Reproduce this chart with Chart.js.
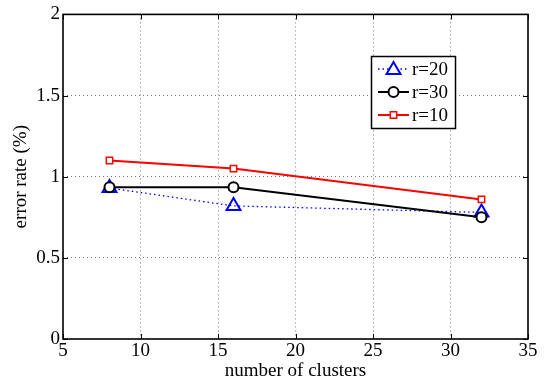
<!DOCTYPE html>
<html><head><meta charset="utf-8">
<script src="https://cdn.jsdelivr.net/npm/chart.js@4.4.0/dist/chart.umd.min.js"></script>
<style>html,body{margin:0;padding:0;background:#fff}#wrap{width:549px;height:381px}</style>
</head><body><div id="wrap"><canvas id="c" width="549" height="381"></canvas></div>
<script>
const clusters = [8, 16, 32];
const r20 = [0.93, 0.82, 0.78];
const r30 = [0.935, 0.935, 0.75];
const r10 = [1.10, 1.05, 0.86];
const xTicks = [5, 10, 15, 20, 25, 30, 35];
const yTicks = [0, 0.5, 1, 1.5, 2];
const seriesLabels = ['r=20', 'r=30', 'r=10'];

const FONT = '"Liberation Serif", "Times New Roman", serif';
const pts = arr => clusters.map((x, i) => ({x, y: arr[i]}));

const boxPlugin = {
  id: 'box',
  afterDraw(chart) {
    const {ctx, chartArea: a, scales: {x, y}} = chart;
    ctx.save();
    ctx.strokeStyle = '#000';
    ctx.lineWidth = 1;
    ctx.beginPath();
    xTicks.forEach(v => {
      const px = Math.round(x.getPixelForValue(v)) + 0.5;
      ctx.moveTo(px, a.bottom); ctx.lineTo(px, a.bottom - 5);
      ctx.moveTo(px, a.top); ctx.lineTo(px, a.top + 5);
    });
    yTicks.forEach(v => {
      const py = Math.round(y.getPixelForValue(v)) + 0.5;
      ctx.moveTo(a.left, py); ctx.lineTo(a.left + 5, py);
      ctx.moveTo(a.right, py); ctx.lineTo(a.right - 5, py);
    });
    ctx.stroke();
    ctx.lineWidth = 1.6;
    ctx.strokeRect(a.left, a.top, a.right - a.left, a.bottom - a.top);
    // legend
    const lx = 371, ly = 56, lw = 84, lh = 72;
    ctx.fillStyle = '#fff';
    ctx.fillRect(lx, ly, lw, lh);
    ctx.lineWidth = 1.5;
    ctx.strokeRect(lx + 0.5, ly + 0.5, lw, lh);
    const rows = [69, 92, 115];
    chart.data.datasets.forEach((ds, i) => {
      const yy = rows[i];
      ctx.save();
      ctx.strokeStyle = ds.borderColor;
      ctx.lineWidth = ds.borderWidth;
      ctx.setLineDash(ds.borderDash || []);
      ctx.beginPath(); ctx.moveTo(378, yy); ctx.lineTo(409, yy); ctx.stroke();
      ctx.setLineDash([]);
      ctx.lineWidth = ds.pointBorderWidth;
      const cx = 393.5;
      ctx.fillStyle = '#fff';
      ctx.beginPath();
      if (ds.pointStyle === 'triangle') {
        const r = ds.pointRadius, c = yy + 1;
        ctx.moveTo(cx, c - r); ctx.lineTo(cx + r * 0.87, c + r * 0.5); ctx.lineTo(cx - r * 0.87, c + r * 0.5); ctx.closePath();
      } else if (ds.pointStyle === 'rect') {
        const s = ds.pointRadius * 0.7071;
        ctx.rect(cx - s, yy - s, 2 * s, 2 * s);
      } else {
        ctx.arc(cx, yy, ds.pointRadius, 0, Math.PI * 2);
      }
      ctx.fill(); ctx.stroke();
      ctx.restore();
      ctx.fillStyle = '#000';
      ctx.font = '19px ' + FONT;
      ctx.textBaseline = 'middle';
      ctx.fillText(ds.label, 412, yy + 1);
    });
    ctx.restore();
  }
};

new Chart(document.getElementById('c'), {
  type: 'line',
  data: {
    datasets: [
      {label: seriesLabels[0], data: pts(r20), order: 3, borderColor: '#0000ff', borderWidth: 1.3, borderDash: [1.5, 3],
       pointStyle: 'triangle', pointRadius: 8, pointBorderWidth: 2, pointBackgroundColor: 'rgba(255,255,255,0)', pointBorderColor: '#0000ff'},
      {label: seriesLabels[1], data: pts(r30), order: 2, borderColor: '#000', borderWidth: 2,
       pointStyle: 'circle', pointRadius: 5, pointBorderWidth: 2, pointBackgroundColor: '#fff', pointBorderColor: '#000'},
      {label: seriesLabels[2], data: pts(r10), order: 1, borderColor: '#ff0000', borderWidth: 2,
       pointStyle: 'rect', pointRadius: 4.5, pointBorderWidth: 1.5, pointBackgroundColor: '#fff', pointBorderColor: '#ff0000'}
    ]
  },
  options: {
    responsive: false,
    animation: false,
    layout: {padding: {top: 12, right: 21, left: 0, bottom: 0}},
    plugins: {legend: {display: false}, tooltip: {enabled: false}},
    elements: {line: {tension: 0}},
    scales: {
      x: {
        type: 'linear', min: 5, max: 35,
        afterBuildTicks: s => { s.ticks = xTicks.map(v => ({value: v})); },
        afterFit: s => { s.height = 42; },
        grid: {color: c => (c.tick && (c.tick.value === 5 || c.tick.value === 35)) ? 'rgba(0,0,0,0)' : '#777', lineWidth: 1, drawTicks: false},
        border: {display: false, dash: [1, 3]},
        ticks: {font: {family: FONT, size: 19}, color: '#000', padding: 1, maxRotation: 0, autoSkip: false, callback: v => String(v)},
        title: {display: true, text: 'number of clusters', font: {family: FONT, size: 19, lineHeight: 1}, color: '#000', padding: {top: 0, bottom: 0}}
      },
      y: {
        type: 'linear', min: 0, max: 2,
        afterBuildTicks: s => { s.ticks = yTicks.map(v => ({value: v})); },
        afterFit: s => { s.width = 63; },
        grid: {color: c => (c.tick && (c.tick.value === 0 || c.tick.value === 2)) ? 'rgba(0,0,0,0)' : '#777', lineWidth: 1, drawTicks: false},
        border: {display: false, dash: [1, 3]},
        ticks: {font: {family: FONT, size: 19}, color: '#000', padding: 3, autoSkip: false, callback: v => String(v)},
        title: {display: true, text: 'error rate (%)', font: {family: FONT, size: 19, lineHeight: 1.2}, color: '#000', padding: {top: 10, bottom: 0}}
      }
    }
  },
  plugins: [boxPlugin]
});
</script></body></html>
